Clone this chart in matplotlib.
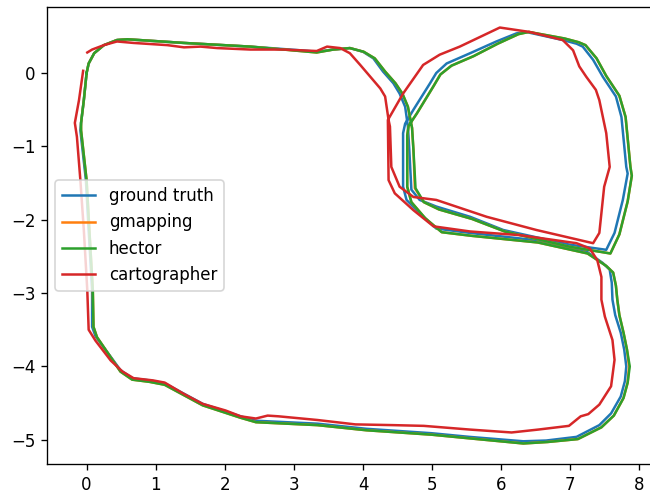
import matplotlib
matplotlib.use('Agg')
import matplotlib.pyplot as plt

# ==========================================
# DATA (x, y in metres)
# ==========================================
# ground truth
gt_x = [0.00, 0.03, 0.11, 0.25, 0.44, 0.59, 1.41, 2.37, 3.09, 3.33, 3.57, 3.81, 4.00, 4.15,
        4.29, 4.44, 4.53, 4.61, 4.65, 4.67, 4.70, 4.82, 5.06, 5.55, 6.03, 6.99, 7.52,
        7.64, 7.76, 7.83, 7.81, 7.74, 7.66, 7.47, 7.33, 7.18, 7.09, 6.89, 6.36, 6.22, 5.93,
        5.55, 5.21, 5.06, 4.97, 4.73, 4.61, 4.58,
        4.58, 4.63, 4.82, 5.06, 5.55, 6.51, 7.23, 7.47, 7.57, 7.60, 7.61, 7.65, 7.73, 7.78,
        7.81, 7.79, 7.73, 7.59, 7.42, 7.09, 6.65, 6.32, 5.54, 4.99, 4.05, 3.34, 2.45, 2.23,
        1.68, 1.13, 0.91, 0.66, 0.49, 0.35, 0.13, 0.08, 0.08, 0.03, -0.01, -0.09, -0.08,
        -0.04, 0.00]
gt_y = [0.00, 0.13, 0.27, 0.38, 0.45, 0.46, 0.41, 0.36, 0.31, 0.29, 0.32, 0.34, 0.29, 0.20,
        0.02, -0.14, -0.28, -0.46, -0.73, -1.05, -1.59, -1.73, -1.82, -1.96, -2.14, -2.34, -2.41,
        -2.18, -1.73, -1.37, -1.28, -0.60, -0.32, -0.05, 0.18, 0.36, 0.40, 0.45, 0.56, 0.54, 0.43,
        0.27, 0.13, 0.00, -0.14, -0.50, -0.69, -0.82,
        -1.55, -1.73, -1.91, -2.12, -2.18, -2.28, -2.43, -2.59, -2.68, -2.86, -3.09, -3.30,
        -3.54, -3.77, -4.00, -4.20, -4.41, -4.64, -4.80, -4.96, -5.01, -5.02, -4.96, -4.91,
        -4.85, -4.78, -4.74, -4.68, -4.51, -4.23, -4.19, -4.16, -4.05, -3.87, -3.59, -3.46,
        -2.96, -2.14, -1.46, -0.78, -0.68, -0.37, 0.00]

# gmapping
gm_x = [0.00, 0.03, 0.11, 0.25, 0.44, 0.59, 1.41, 2.37, 3.09, 3.33, 3.57, 3.81, 4.01, 4.17,
        4.32, 4.47, 4.57, 4.65, 4.71, 4.73, 4.75, 4.88, 5.10, 5.58, 6.05, 7.00, 7.58,
        7.71, 7.83, 7.89, 7.87, 7.80, 7.71, 7.52, 7.38, 7.22, 7.12, 6.92, 6.40, 6.25, 5.95,
        5.60, 5.28, 5.12, 5.02, 4.78, 4.66, 4.64,
        4.64, 4.70, 4.90, 5.14, 5.58, 6.53, 7.25, 7.52, 7.62, 7.66, 7.68, 7.71, 7.77, 7.82,
        7.85, 7.83, 7.77, 7.63, 7.45, 7.11, 6.67, 6.32, 5.54, 4.99, 4.05, 3.34, 2.45, 2.23,
        1.68, 1.13, 0.91, 0.66, 0.49, 0.36, 0.15, 0.10, 0.09, 0.04, 0.00, -0.08, -0.08,
        -0.04, 0.00]
gm_y = [0.00, 0.13, 0.27, 0.38, 0.45, 0.46, 0.41, 0.36, 0.30, 0.28, 0.32, 0.34, 0.29, 0.20,
        0.02, -0.14, -0.28, -0.46, -0.75, -1.05, -1.57, -1.76, -1.86, -1.99, -2.16, -2.37, -2.46,
        -2.20, -1.75, -1.40, -1.28, -0.60, -0.31, -0.04, 0.20, 0.38, 0.42, 0.47, 0.56, 0.53, 0.40,
        0.23, 0.10, -0.02, -0.18, -0.55, -0.72, -0.85,
        -1.55, -1.76, -1.98, -2.17, -2.22, -2.31, -2.46, -2.63, -2.72, -2.90, -3.09, -3.30,
        -3.54, -3.77, -4.00, -4.22, -4.43, -4.67, -4.83, -4.99, -5.03, -5.05, -4.98, -4.93,
        -4.87, -4.80, -4.76, -4.70, -4.53, -4.25, -4.21, -4.18, -4.07, -3.89, -3.60, -3.46,
        -2.96, -2.14, -1.46, -0.78, -0.68, -0.37, 0.00]

# hector
hc_x = [0.00, 0.03, 0.11, 0.25, 0.44, 0.59, 1.41, 2.37, 3.09, 3.33, 3.57, 3.81, 4.01, 4.17,
        4.32, 4.47, 4.57, 4.65, 4.71, 4.73, 4.76, 4.88, 5.10, 5.58, 6.05, 7.00, 7.58,
        7.71, 7.83, 7.89, 7.87, 7.80, 7.71, 7.52, 7.38, 7.22, 7.12, 6.92, 6.40, 6.25, 5.95,
        5.60, 5.28, 5.12, 5.02, 4.78, 4.66, 4.64,
        4.64, 4.70, 4.90, 5.14, 5.58, 6.53, 7.25, 7.52, 7.62, 7.66, 7.68, 7.71, 7.77, 7.82,
        7.86, 7.83, 7.77, 7.63, 7.45, 7.11, 6.67, 6.32, 5.54, 4.99, 4.05, 3.34, 2.45, 2.23,
        1.68, 1.13, 0.91, 0.66, 0.49, 0.36, 0.15, 0.10, 0.09, 0.04, 0.00, -0.08, -0.08,
        -0.04, 0.00]
hc_y = [0.00, 0.13, 0.27, 0.38, 0.45, 0.46, 0.41, 0.36, 0.30, 0.28, 0.32, 0.34, 0.29, 0.20,
        0.02, -0.14, -0.28, -0.46, -0.75, -1.05, -1.57, -1.76, -1.86, -1.99, -2.16, -2.37, -2.46,
        -2.20, -1.75, -1.40, -1.28, -0.60, -0.31, -0.04, 0.20, 0.38, 0.42, 0.47, 0.56, 0.53, 0.40,
        0.23, 0.10, -0.02, -0.18, -0.55, -0.72, -0.85,
        -1.55, -1.76, -1.98, -2.17, -2.22, -2.31, -2.46, -2.63, -2.72, -2.90, -3.09, -3.30,
        -3.54, -3.77, -4.00, -4.22, -4.43, -4.67, -4.83, -4.99, -5.03, -5.05, -4.98, -4.93,
        -4.87, -4.80, -4.76, -4.70, -4.53, -4.25, -4.21, -4.18, -4.07, -3.89, -3.60, -3.46,
        -2.96, -2.14, -1.46, -0.78, -0.68, -0.37, 0.00]

# cartographer
ct_x = [0.01, 0.08, 0.25, 0.44, 0.68, 1.17, 1.41, 1.65, 1.89, 2.37, 2.85, 3.33, 3.48, 3.67,
        3.81, 3.96, 4.25, 4.32, 4.37, 4.39, 4.41, 4.53, 4.73, 5.06, 5.79, 6.51, 7.33, 7.42,
        7.47, 7.49, 7.57, 7.52, 7.42, 7.37, 7.23, 7.13, 7.04, 6.89, 6.41, 5.98, 5.40, 5.11,
        4.87, 4.58, 4.36, 4.37,
        4.46, 4.73, 5.02, 5.55, 6.27, 7.09, 7.28, 7.39, 7.45, 7.45, 7.50, 7.61, 7.64, 7.59,
        7.42, 7.26, 7.15, 6.98, 6.54, 6.15, 5.54, 4.88, 4.44, 3.89, 3.34, 2.78, 2.62, 2.45,
        2.23, 2.01, 1.68, 1.40, 1.13, 0.96, 0.68, 0.52, 0.35, 0.13, 0.03, 0.01, -0.04,
        -0.09, -0.14, -0.17, -0.11, -0.05]
ct_y = [0.28, 0.32, 0.38, 0.43, 0.41, 0.38, 0.35, 0.36, 0.34, 0.32, 0.32, 0.30, 0.36, 0.34,
        0.27, 0.11, -0.21, -0.32, -0.64, -0.73, -1.28, -1.55, -1.69, -1.73, -1.96, -2.14,
        -2.32, -2.18, -1.73, -1.55, -1.28, -0.82, -0.37, -0.23, -0.05, 0.09, 0.31, 0.45, 0.56,
        0.62, 0.36, 0.25, 0.11, -0.28, -0.64, -1.46,
        -1.64, -1.87, -2.09, -2.16, -2.21, -2.32, -2.39, -2.55, -2.78, -3.09, -3.32, -3.64,
        -3.91, -4.27, -4.52, -4.65, -4.68, -4.81, -4.86, -4.90, -4.86, -4.81, -4.80, -4.79,
        -4.73, -4.68, -4.67, -4.71, -4.68, -4.60, -4.51, -4.37, -4.22, -4.19, -4.16, -4.07,
        -3.92, -3.65, -3.50, -2.96, -2.14, -1.46, -0.87, -0.68, -0.37, 0.03]

# ==========================================
# PLOTTING
# ==========================================
fig = plt.figure(figsize=(650 / 120, 493 / 120), dpi=120)
ax = fig.add_axes([0.0723, 0.0588, 0.9415, 0.927])

ax.plot(gt_x, gt_y, color='C0', label='ground truth')
ax.plot(gm_x, gm_y, color='C1', label='gmapping')
ax.plot(hc_x, hc_y, color='C2', label='hector')
ax.plot(ct_x, ct_y, color='C3', label='cartographer')

ax.set_xlim(-0.573, 8.283)
ax.set_ylim(-5.33, 0.90)
ax.legend(loc='center left')

fig.savefig('out.png', dpi=120)
